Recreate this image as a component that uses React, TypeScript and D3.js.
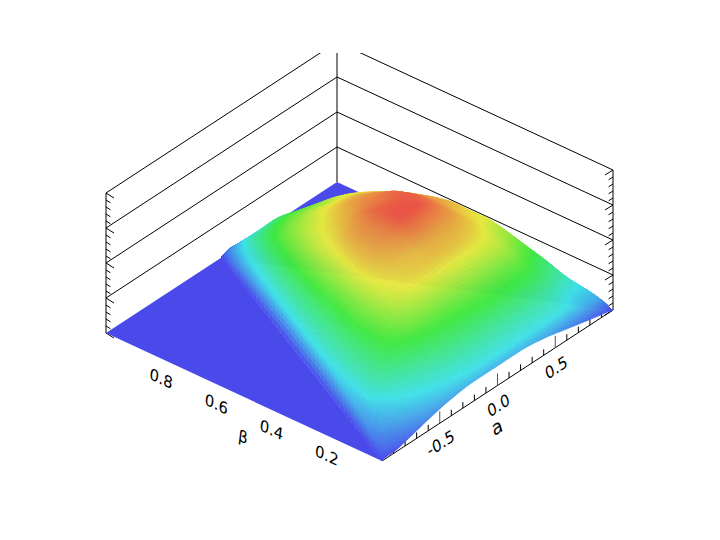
import React, { useEffect, useRef } from "react";
import * as d3 from "d3";

// alpha ticks along the front axis
const alphaMajor = [-0.5, 0, 0.5];
const alphaMinor = [-0.9, -0.8, -0.7, -0.6, -0.4, -0.3, -0.2, -0.1, 0.1, 0.2, 0.3, 0.4, 0.6, 0.7, 0.8, 0.9];
const alphaLabels = ["-0.5", "0.0", "0.5"];
const betaMajor = [0.8, 0.6, 0.4, 0.2];
const zMajor = [0, 0.25, 0.5, 0.75, 1];
const zMinor = [0.05, 0.1, 0.15, 0.2, 0.3, 0.35, 0.4, 0.45, 0.55, 0.6, 0.65, 0.7, 0.8, 0.85, 0.9, 0.95];

// surface is sampled over the triangle |alpha| <= 1 - beta.
// fractions = position across the row, left edge to right edge
const fractions = [0, 0.005, 0.02, 0.05, 0.1, 0.2, 0.3, 0.4, 0.5, 0.6, 0.7, 0.8, 0.9, 0.95, 0.98, 0.995, 1];
const betaRows = [0, 0.01, 0.03, 0.06, 0.1, 0.15, 0.2, 0.25, 0.3, 0.35, 0.4, 0.45, 0.5, 0.55, 0.6, 0.65, 0.7, 0.75, 0.8, 0.85, 0.9, 0.95, 0.98, 1];
// heights, in hundredths of the z axis
const heights = [
  [0, 1, 1, 1, 3, 8, 12, 14, 14, 14, 12, 8, 4, 2, 1, 0, 0],
  [0, 2, 3, 4, 6, 12, 16, 19, 20, 20, 20, 19, 14, 12, 7, 3, 0],
  [0, 4, 5, 7, 10, 16, 20, 23, 24, 24, 24, 23, 17, 16, 10, 5, 0],
  [0, 6, 8, 11, 15, 21, 25, 28, 29, 29, 29, 28, 22, 20, 14, 7, 0],
  [0, 9, 11, 15, 20, 27, 32, 35, 36, 37, 37, 36, 30, 26, 18, 9, 0],
  [0, 12, 14, 21, 28, 36, 41, 43, 44, 45, 45, 45, 38, 35, 23, 11, 0],
  [0, 14, 17, 23, 30, 41, 50, 54, 55, 56, 56, 55, 47, 43, 29, 14, 0],
  [0, 16, 19, 25, 31, 44, 56, 62, 64, 65, 64, 61, 54, 51, 35, 17, 0],
  [0, 17, 20, 26, 32, 46, 59, 64, 66, 68, 68, 66, 60, 58, 40, 19, 0],
  [0, 18, 21, 26, 33, 47, 61, 67, 70, 74, 73, 71, 64, 62, 43, 21, 0],
  [0, 19, 22, 27, 33, 47, 63, 69, 73, 79, 79, 75, 68, 66, 45, 22, 0],
  [0, 19, 22, 27, 33, 47, 62, 69, 73, 78, 78, 77, 70, 67, 47, 23, 0],
  [0, 19, 22, 27, 33, 47, 60, 67, 71, 75, 75, 76, 70, 67, 48, 24, 0],
  [0, 19, 22, 27, 33, 46, 58, 63, 67, 70, 72, 72, 68, 66, 47, 23, 0],
  [0, 19, 22, 26, 32, 45, 55, 60, 63, 66, 68, 68, 65, 64, 45, 22, 0],
  [0, 18, 21, 25, 31, 43, 51, 56, 58, 61, 62, 62, 61, 61, 42, 21, 0],
  [0, 17, 20, 24, 30, 40, 47, 51, 53, 55, 56, 55, 55, 56, 38, 19, 0],
  [0, 16, 18, 22, 27, 36, 42, 45, 47, 48, 49, 49, 48, 49, 33, 16, 0],
  [0, 14, 16, 20, 24, 31, 36, 38, 40, 41, 42, 42, 41, 42, 28, 14, 0],
  [0, 12, 13, 16, 20, 25, 29, 31, 32, 33, 33, 33, 34, 35, 22, 11, 0],
  [0, 9, 10, 12, 15, 18, 20, 22, 23, 23, 23, 23, 23, 24, 15, 8, 0],
  [0, 6, 6, 7, 9, 10, 11, 12, 13, 13, 13, 13, 13, 13, 8, 4, 0],
  [0, 3, 3, 3, 4, 5, 5, 6, 6, 6, 6, 6, 6, 7, 4, 2, 0],
  [0, 0, 0, 0, 0, 0, 0, 0, 0, 0, 0, 0, 0, 0, 0, 0, 0],
];
const colorStops = [0, 0.2, 0.4, 0.6, 0.8];
const colorRange = ["#4a4aeb", "#40e0e8", "#40e840", "#e8e840", "#eb4848"];

// smooth shading between table samples (monotone cubic, same idea as d3.curveMonotoneX)
const monotoneAt = (xs: number[], ys: number[], x: number) => {
  const i = Math.min(Math.max(d3.bisectRight(xs, x) - 1, 0), xs.length - 2);
  const h = xs[i + 1] - xs[i];
  const slope = (k: number) => (ys[k + 1] - ys[k]) / (xs[k + 1] - xs[k]);
  const tangent = (k: number) => {
    if (k === 0) return slope(0);
    if (k === xs.length - 1) return slope(k - 1);
    const p = slope(k - 1);
    const q = slope(k);
    return p * q <= 0 ? 0 : (2 * p * q) / (p + q);
  };
  const t = (x - xs[i]) / h;
  return (
    (2 * t ** 3 - 3 * t ** 2 + 1) * ys[i] +
    (t ** 3 - 2 * t ** 2 + t) * h * tangent(i) +
    (-2 * t ** 3 + 3 * t ** 2) * ys[i + 1] +
    (t ** 3 - t ** 2) * h * tangent(i + 1)
  );
};

// every table interval split in a few mesh steps
const refine = (xs: number[]) => {
  const out: number[] = [];
  xs.slice(0, -1).forEach((x, i) => {
    const n = Math.max(6, Math.ceil((xs[i + 1] - x) * 100));
    d3.range(n).forEach((k) => out.push(x + ((xs[i + 1] - x) * k) / n));
  });
  out.push(xs[xs.length - 1]);
  return out;
};

const App = () => {
  const ref = useRef<SVGSVGElement>(null);

  useEffect(() => {
    const origin = { x: 382, y: 461 };
    const ax = d3.scaleLinear().domain([-1, 1]).range([0, 231]);
    const ay = d3.scaleLinear().domain([-1, 1]).range([0, -151]);
    const bx = d3.scaleLinear().domain([0, 1]).range([0, -276]);
    const by = d3.scaleLinear().domain([0, 1]).range([0, -128]);
    const zy = d3.scaleLinear().domain([0, 1]).range([0, -140]);
    const color = d3.scaleLinear<string>().domain(colorStops).range(colorRange).clamp(true);

    const px = (a: number, b: number) => origin.x + ax(a) + bx(b);
    const py = (a: number, b: number, z = 0) => origin.y + ay(a) + by(b) + zy(z);
    const pt = (a: number, b: number, z = 0) => [px(a, b), py(a, b, z)] as [number, number];
    const line = d3.line();

    const svg = d3.select(ref.current);
    svg.selectAll("*").remove();
    svg.append("defs").append("clipPath").attr("id", "top-clip")
      .append("rect").attr("x", 0).attr("y", 53).attr("width", 720).attr("height", 487);
    const walls = svg.append("g").attr("clip-path", "url(#top-clip)")
      .attr("fill", "none").attr("stroke", "#000").attr("stroke-width", 1);

    // wall grid lines
    zMajor.slice(1).forEach((z) => {
      walls.append("path").attr("d", line([pt(-1, 1, z), pt(1, 1, z), pt(1, 0, z)]));
    });
    walls.append("path").attr("d", line([pt(-1, 1), pt(-1, 1, 1)]));
    walls.append("path").attr("d", line([pt(1, 0), pt(1, 0, 1)]));
    walls.append("path").attr("d", line([pt(1, 1), pt(1, 1, 1)]));

    // z ticks on both outer walls
    const zTicks = (a: number, b: number, dx: number) => {
      const [x0] = pt(a, b);
      zMajor.concat(zMinor).forEach((z) => {
        const major = zMajor.includes(z);
        const y0 = py(a, b, z);
        const len = major ? 1 : 0.55;
        walls.append("path").attr("d", line([[x0, y0], [x0 + dx * len, y0 + 5 * len]]));
      });
    };
    zTicks(-1, 1, 8);
    zTicks(1, 0, -8);

    // flat part of the surface: the two triangles outside the raised area
    svg.append("path")
      .attr("d", line([pt(-1, 0), pt(0, 1), pt(-1, 1)]) + "Z")
      .attr("fill", colorRange[0]);
    svg.append("path")
      .attr("d", line([pt(1, 0), pt(1, 1), pt(0, 1)]) + "Z")
      .attr("fill", colorRange[0]);

    // front axis and its ticks
    const axis = svg.append("g").attr("fill", "none").attr("stroke", "#000");
    axis.append("path").attr("d", line([pt(-1, 0), pt(1, 0)]));
    alphaMinor.forEach((a) => {
      axis.append("path").attr("d", line([pt(a, 0), [px(a, 0), py(a, 0) - 6]]));
    });
    alphaMajor.forEach((a) => {
      axis.append("path").attr("d", line([pt(a, 0), [px(a, 0), py(a, 0) - 12]])).attr("stroke", "#555");
    });

    // mesh over the raised area, painted back to front
    const fineS = refine(fractions);
    const fineB = refine(betaRows);
    const mesh = fineB.map((b) => {
      const across = fineS.map((s) => {
        const samples = heights.map((row) => monotoneAt(fractions, row, s));
        const z = monotoneAt(betaRows, samples, b) / 100;
        const a = b - 1 + s * 2 * (1 - b);
        return { a, b, z: Math.max(z, 0) };
      });
      return across;
    });
    const cells: { depth: number; d: string; fill: string }[] = [];
    for (let r = 0; r < fineB.length - 1; r++) {
      for (let c = 0; c < fineS.length - 1; c++) {
        const q = [mesh[r][c], mesh[r][c + 1], mesh[r + 1][c + 1], mesh[r + 1][c]];
        const floorY = d3.mean(q, (p) => py(p.a, p.b)) as number;
        cells.push({
          depth: floorY,
          d: line(q.map((p) => pt(p.a, p.b, p.z))) + "Z",
          fill: color(d3.mean(q, (p) => p.z) as number),
        });
      }
    }
    cells.sort((m, n) => d3.ascending(m.depth, n.depth));
    svg.append("g")
      .selectAll("path")
      .data(cells)
      .enter()
      .append("path")
      .attr("d", (d) => d.d)
      .attr("fill", (d) => d.fill)
      .attr("stroke", (d) => d.fill)
      .attr("stroke-width", 0.6);

    // labels
    const labels = svg.append("g")
      .style("font-family", "'DejaVu Sans'")
      .style("font-size", "16px")
      .attr("text-anchor", "middle")
      .attr("dominant-baseline", "central")
      .attr("fill", "#000");
    const alphaTf = (x: number, y: number) => `matrix(0.84,-0.55,0.3,0.96,${x},${y})`;
    const betaTf = (x: number, y: number) => `matrix(0.91,0.42,-0.12,0.98,${x},${y})`;
    alphaMajor.forEach((a, i) => {
      labels.append("text")
        .attr("transform", alphaTf(px(a, 0) + 1, py(a, 0) + 20))
        .text(alphaLabels[i]);
    });
    labels.append("text").attr("transform", alphaTf(497, 427)).style("font-size", "19px").text("a");
    betaMajor.forEach((b) => {
      labels.append("text")
        .attr("transform", betaTf(px(-1, b) - 0, py(-1, b) + 20))
        .text(b.toFixed(1));
    });
    labels.append("text").attr("transform", betaTf(243, 437)).text("β");
  }, []);

  return <svg ref={ref} width={720} height={540} style={{ position: "absolute", left: 0, top: 0 }} />;
};

export default App;
